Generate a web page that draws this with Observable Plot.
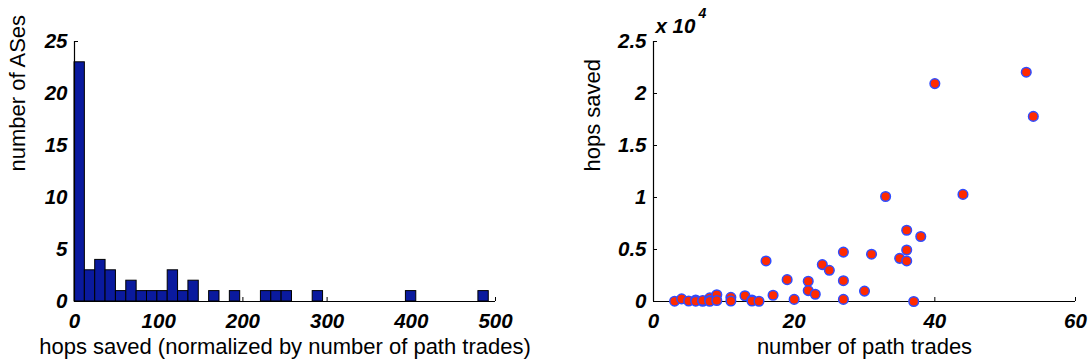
<!DOCTYPE html>
<html>
<head>
<meta charset="utf-8">
<script src="https://cdn.jsdelivr.net/npm/d3@7"></script>
<script src="https://cdn.jsdelivr.net/npm/@observablehq/plot@0.6"></script>
<style>
  html, body { margin: 0; padding: 0; background: #fff; }
  #wrap { position: relative; width: 1091px; height: 364px; }
  #wrap svg { position: absolute; top: 0; }
</style>
</head>
<body>
<div id="wrap"></div>
<script>
// ---- Left: histogram of hops saved (normalized) ----
const histCounts = [23,3,4,3,1,2,1,1,1,3,1,2,0,1,0,1,0,0,1,1,1,0,0,1,0,0,0,0,0,0,0,0,1,0,0,0,0,0,0,1];
const binWidth = 12.3;
const histXTicks = [0, 100, 200, 300, 400, 500];
const histYTicks = [0, 5, 10, 15, 20, 25];
const histXLabel = "hops saved (normalized by number of path trades)";
const histYLabel = "number of ASes";

// ---- Right: scatter hops saved vs number of path trades ----
const pathTrades = [3,4,5,6,6,7,7,8,8,8,9,9,11,11,13,14,14,15,16,17,19,20,22,22,23,24,25,27,27,27,30,31,33,35,36,36,36,37,38,40,44,53,54];
const hopsSaved  = [30,250,50,150,30,20,100,350,100,20,650,100,400,50,550,150,50,20,3900,600,2100,200,1950,1050,700,3550,3000,4750,2000,200,1000,4550,10100,4150,6850,4950,3900,0,6250,20950,10300,22050,17800];
const scatXTicks = [0, 20, 40, 60];
const scatYTicks = [0, 0.5, 1, 1.5, 2, 2.5];
const scatScale = 1e4;
const scatXLabel = "number of path trades";
const scatYLabel = "hops saved";

const bins = histCounts.map((c, i) => ({x1: i * binWidth, x2: (i + 1) * binWidth, count: c})).filter(d => d.count > 0);
const points = pathTrades.map((x, i) => ({x, y: hopsSaved[i]}));

const FONT = "'Liberation Sans', Arial, Helvetica, sans-serif";
const tickStyle = {fontSize: 20.5, fontWeight: "bold", fontStyle: "italic", fill: "#000"};
const labelSize = 22;
const fmt = d => String(d);

function axes(xTicks, yTicks) {
  return [
    Plot.axisX(xTicks, {anchor: "bottom", tickSize: -4, tickPadding: 16, tickFormat: fmt, label: null, ...tickStyle, stroke: "#000"}),
    Plot.axisY(yTicks, {anchor: "left", tickSize: -4, tickPadding: 11, tickFormat: fmt, label: null, ...tickStyle, stroke: "#000"})
  ];
}

const left = Plot.plot({
  width: 545, height: 364,
  marginLeft: 74, marginRight: 50, marginTop: 41, marginBottom: 63,
  style: {fontFamily: FONT, background: "transparent", overflow: "visible"},
  x: {domain: [0, 500]},
  y: {domain: [0, 25]},
  marks: [
    ...axes(histXTicks, histYTicks),
    Plot.rectY(bins, {x1: "x1", x2: "x2", y: "count", fill: "#0a1a9e", stroke: "#000", strokeWidth: 1}),
    Plot.ruleY([0], {stroke: "#000", strokeWidth: 1.2}),
    Plot.ruleX([0], {stroke: "#000", strokeWidth: 1.2}),
    Plot.text([histXLabel], {frameAnchor: "bottom", dy: 52, fontSize: labelSize, fill: "#000"}),
    Plot.text([histYLabel], {frameAnchor: "left", rotate: -90, dx: -57, fontSize: labelSize, fill: "#000"})
  ]
});
left.style.left = "0px";

const right = Plot.plot({
  width: 546, height: 364,
  marginLeft: 108, marginRight: 16, marginTop: 41, marginBottom: 63,
  style: {fontFamily: FONT, background: "transparent", overflow: "visible"},
  x: {domain: [0, 60]},
  y: {domain: [0, 2.5]},
  marks: [
    ...axes(scatXTicks, scatYTicks),
    Plot.ruleY([0], {stroke: "#000", strokeWidth: 1.2}),
    Plot.ruleX([0], {stroke: "#000", strokeWidth: 1.2}),
    Plot.dot(points, {x: "x", y: d => d.y / scatScale, r: 4.8, fill: "#ff2a00", stroke: "#2f4cff", strokeWidth: 1.5}),
    Plot.text([scatXLabel], {frameAnchor: "bottom", dy: 52, fontSize: labelSize, fill: "#000"}),
    Plot.text([scatYLabel], {frameAnchor: "left", rotate: -90, dx: -61, fontSize: labelSize, fill: "#000"}),
    Plot.text(["x 10"], {frameAnchor: "top-left", dx: 2, dy: -23, fontSize: 20.5, fontWeight: "bold", fontStyle: "italic", fill: "#000", textAnchor: "start"}),
    Plot.text(["4"], {frameAnchor: "top-left", dx: 45, dy: -33, fontSize: 14, fontWeight: "bold", fontStyle: "italic", fill: "#000", textAnchor: "start"})
  ]
});
right.style.left = "545px";

const wrap = document.getElementById("wrap");
wrap.appendChild(left);
wrap.appendChild(right);
</script>
</body>
</html>
